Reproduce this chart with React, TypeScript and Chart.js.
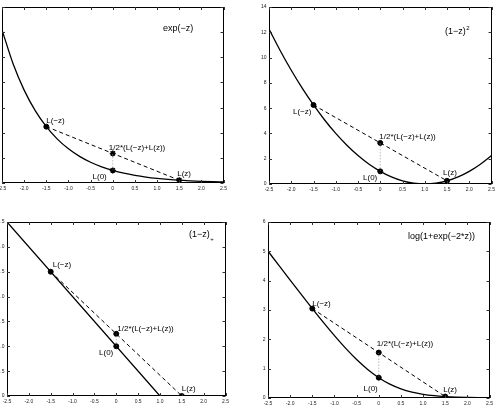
import React, { useEffect, useRef } from "react";
import { Chart, registerables } from "chart.js";

Chart.register(...registerables);

// ---- data ----
const Z = [-2.5, -2.25, -2, -1.75, -1.5, -1.25, -1, -0.75, -0.5, -0.25, 0, 0.25, 0.5, 0.75, 1, 1.25, 1.5, 1.75, 2, 2.25, 2.5];
const EXP_VALUES = [12.182, 9.488, 7.389, 5.755, 4.482, 3.49, 2.718, 2.117, 1.649, 1.284, 1, 0.779, 0.607, 0.472, 0.368, 0.287, 0.223, 0.174, 0.135, 0.105, 0.082];
const SQ_VALUES = [12.25, 10.5625, 9, 7.5625, 6.25, 5.0625, 4, 3.0625, 2.25, 1.5625, 1, 0.5625, 0.25, 0.0625, 0, 0.0625, 0.25, 0.5625, 1, 1.5625, 2.25];
const HINGE_Z = [-2.5, 1, 2.5];
const HINGE_VALUES = [3.5, 0, 0];
const LOGIT_VALUES = [5.0067, 4.511, 4.0181, 3.5298, 3.0486, 2.5789, 2.1269, 1.7014, 1.3133, 0.9741, 0.6931, 0.4741, 0.3133, 0.2014, 0.1269, 0.0789, 0.0486, 0.0298, 0.0181, 0.011, 0.0067];

// marker order: L(-z), 1/2*(L(-z)+L(z)), L(0), L(z)
const MARK_X = [-1.5, 0, 0, 1.5];
const EXP_MARKS = [4.482, 2.353, 1, 0.223];
const SQ_MARKS = [6.25, 3.25, 1, 0.25];
const HINGE_MARKS = [2.5, 1.25, 1, 0];
const LOGIT_MARKS = [3.0486, 1.5486, 0.6931, 0.0486];
const MARK_LABELS = ["L(\u2212z)", "1/2*(L(\u2212z)+L(z))", "L(0)", "L(z)"];

const TITLES = ["exp(\u2212z)", "(1\u2212z)", "(1\u2212z)", "log(1+exp(\u22122*z))"];
const Y_MAX = [14, 14, 3.5, 6];
const Y_STEP = [2, 2, 0.5, 1];

const LM = 22, BM = 14, TM = 6, RM = 6;
const FONT = '"Liberation Sans", Arial, sans-serif';

type Area = { l: number; t: number; r: number; b: number };
type Off = [number, number, "left" | "right"];

interface PanelProps {
  xs: number[];
  ys: number[];
  marks: number[];
  ymax: number;
  ystep: number;
  area: Area;
  title: string;
  sup?: string;
  sub?: string;
  titlePos: [number, number];
  offs: Off[];
  star?: boolean;
  linear?: boolean;
}

function Panel(p: PanelProps) {
  const ref = useRef<HTMLCanvasElement>(null);
  const W = p.area.r - p.area.l + LM + RM;
  const H = p.area.b - p.area.t + TM + BM;
  useEffect(() => {
    if (!ref.current) return;
    const curve = p.xs.map((x, i) => ({ x, y: p.ys[i] }));
    const pts = MARK_X.map((x, i) => ({ x, y: p.marks[i] }));
    const deco = {
      id: "deco",
      afterDraw(chart: any) {
        const ctx = chart.ctx;
        const a = chart.chartArea;
        const sx = chart.scales.x, sy = chart.scales.y;
        ctx.save();
        ctx.strokeStyle = "#000";
        ctx.lineWidth = 1;
        ctx.strokeRect(Math.round(a.left) + 0.5, Math.round(a.top) + 0.5, Math.round(a.right - a.left) - 1, Math.round(a.bottom - a.top) - 1);
        ctx.strokeStyle = "#333";
        ctx.beginPath();
        sx.ticks.forEach((t: any) => {
          const px = Math.round(sx.getPixelForValue(t.value)) + 0.5;
          ctx.moveTo(px, a.bottom); ctx.lineTo(px, a.bottom - 3);
          ctx.moveTo(px, a.top); ctx.lineTo(px, a.top + 3);
        });
        sy.ticks.forEach((t: any) => {
          const py = Math.round(sy.getPixelForValue(t.value)) + 0.5;
          ctx.moveTo(a.left, py); ctx.lineTo(a.left + 3, py);
          ctx.moveTo(a.right, py); ctx.lineTo(a.right - 3, py);
        });
        ctx.stroke();
        ctx.fillStyle = "#000";
        ctx.textBaseline = "middle";
        ctx.font = `8px ${FONT}`;
        MARK_LABELS.forEach((lab, i) => {
          const [dx, dy, al] = p.offs[i];
          ctx.textAlign = al;
          ctx.fillText(lab, sx.getPixelForValue(MARK_X[i]) + dx, sy.getPixelForValue(p.marks[i]) + dy);
        });
        ctx.textAlign = "left";
        ctx.font = `9px ${FONT}`;
        const tx = a.left + p.titlePos[0], ty = a.top + p.titlePos[1];
        ctx.fillText(p.title, tx, ty);
        const w = ctx.measureText(p.title).width;
        ctx.font = `6px ${FONT}`;
        if (p.sup) ctx.fillText(p.sup, tx + w + 0.5, ty - 4);
        if (p.sub) ctx.fillText(p.sub, tx + w + 0.5, ty + 4);
        ctx.restore();
      },
    };
    const tickFont = { size: 5, family: FONT };
    const chart = new Chart(ref.current, {
      type: "scatter",
      data: {
        datasets: [
          {
            data: curve, showLine: true, borderColor: "#000", backgroundColor: "#000", borderWidth: 1.3, pointRadius: 0,
            cubicInterpolationMode: p.linear ? "default" : "monotone", tension: 0,
          } as any,
          { data: [pts[0], pts[3]], showLine: true, borderColor: "#000", borderWidth: 1, borderDash: [4, 3], pointRadius: 0 },
          { data: [pts[2], pts[1]], showLine: true, borderColor: "#999", borderWidth: 1, borderDash: [1, 2], pointRadius: 0 },
          {
            data: pts, showLine: false, pointRadius: p.star ? [2.5, 3, 3, 3] : 2.5,
            pointStyle: p.star ? ["circle", "star", "star", "star"] : "circle",
            pointBackgroundColor: "#000", pointBorderColor: "#000", pointBorderWidth: p.star ? [1, 1.5, 1.5, 1.5] : 1,
          } as any,
        ],
      },
      options: {
        responsive: false,
        animation: false,
        events: [],
        layout: { padding: { top: TM, right: RM, left: 0, bottom: 0 } },
        plugins: { legend: { display: false }, tooltip: { enabled: false } },
        scales: {
          x: {
            type: "linear", min: -2.5, max: 2.5,
            ticks: { stepSize: 0.5, font: tickFont, color: "#222", padding: 3, maxRotation: 0, autoSkip: false },
            grid: { display: false, drawTicks: false },
            border: { display: false },
            afterFit: (s: any) => { s.height = BM; },
          },
          y: {
            type: "linear", min: 0, max: p.ymax,
            ticks: { stepSize: p.ystep, font: tickFont, color: "#222", padding: 2.5, autoSkip: false },
            grid: { display: false, drawTicks: false },
            border: { display: false },
            afterFit: (s: any) => { s.width = LM; },
          },
        },
      },
      plugins: [deco],
    });
    return () => chart.destroy();
  }, []);
  return (
    <canvas
      ref={ref}
      width={W}
      height={H}
      style={{ position: "absolute", left: p.area.l - LM, top: p.area.t - TM, width: W, height: H }}
    />
  );
}

export default function App() {
  return (
    <div style={{ position: "fixed", left: 0, top: 0, width: 495, height: 420, background: "#fff", overflow: "hidden" }}>
      <Panel xs={Z} ys={EXP_VALUES} marks={EXP_MARKS} ymax={Y_MAX[0]} ystep={Y_STEP[0]}
        area={{ l: 2, t: 7, r: 224, b: 183 }} title={TITLES[0]} titlePos={[161, 22]} star
        offs={[[0, -6, "left"], [-4, -6, "left"], [-6, 6, "right"], [-2, -6, "left"]]} />
      <Panel xs={Z} ys={SQ_VALUES} marks={SQ_MARKS} ymax={Y_MAX[1]} ystep={Y_STEP[1]}
        area={{ l: 269, t: 7, r: 492, b: 184 }} title={TITLES[1]} sup="2" titlePos={[176, 25]}
        offs={[[-2, 7, "right"], [-1, -6, "left"], [-3, 6, "right"], [-4, -8, "left"]]} />
      <Panel xs={HINGE_Z} ys={HINGE_VALUES} marks={HINGE_MARKS} ymax={Y_MAX[2]} ystep={Y_STEP[2]} linear
        area={{ l: 7, t: 222, r: 226, b: 396 }} title={TITLES[2]} sub="+" titlePos={[182, 13]}
        offs={[[2, -7, "left"], [1, -5, "left"], [-3, 7, "right"], [0, -7, "left"]]} />
      <Panel xs={Z} ys={LOGIT_VALUES} marks={LOGIT_MARKS} ymax={Y_MAX[3]} ystep={Y_STEP[3]}
        area={{ l: 268, t: 222, r: 490, b: 398 }} title={TITLES[3]} titlePos={[140, 15]}
        offs={[[0, -5, "left"], [-2, -9, "left"], [-1, 11, "right"], [-2, -7, "left"]]} />
    </div>
  );
}
